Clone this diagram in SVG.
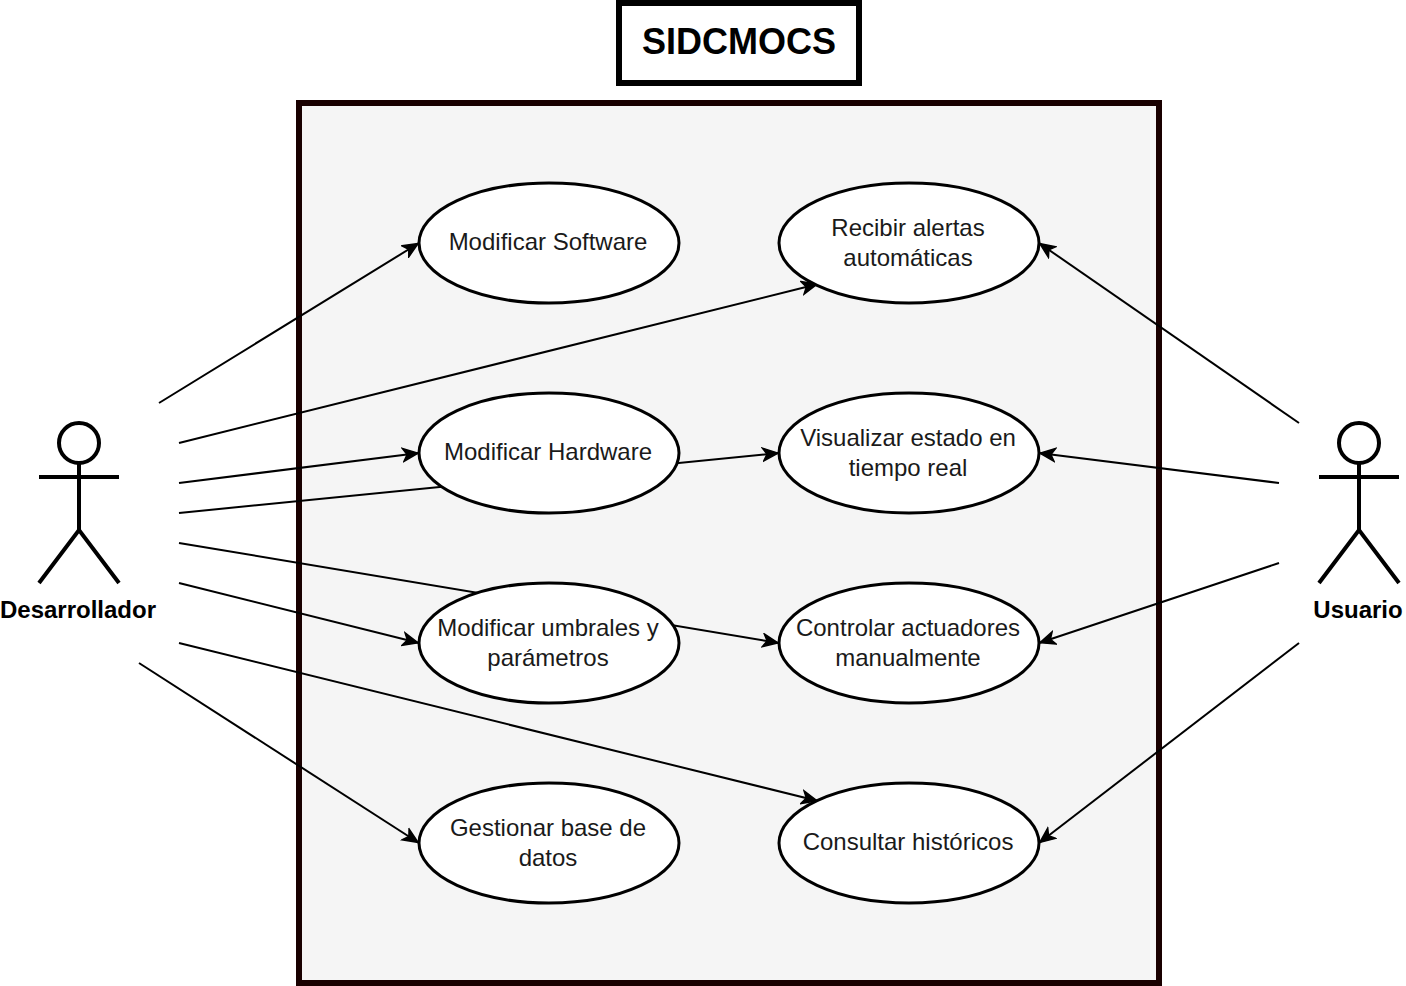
<svg xmlns="http://www.w3.org/2000/svg" width="1406" height="986" viewBox="0 0 1406 986">
<defs>
<marker id="a" viewBox="0 0 18 16" markerUnits="userSpaceOnUse" markerWidth="18" markerHeight="16" refX="17" refY="8" orient="auto"><path d="M1 1.5L16 8L1 14.5L5 8Z" fill="#000" stroke="#000" stroke-width="1.5"/></marker>
</defs>
<style>
text{font-family:"Liberation Sans",Arial,sans-serif;fill:#000;text-anchor:middle}
.u ellipse{fill:#fff;stroke:#000;stroke-width:3}
.u text{font-size:24px;fill:#1a1a1a}
.c path{fill:none;stroke:#000;stroke-width:2}
.c .e{marker-end:url(#a)}
.actor circle,.actor path{fill:#fff;stroke:#000;stroke-width:4}
.actor text{font-size:24px;font-weight:bold;fill:#000}
</style>
<rect width="1406" height="986" fill="#fff"/>
<g id="title"><rect x="619" y="3" width="240" height="80" fill="#fff" stroke="#000" stroke-width="6"/><text x="739" y="54" font-size="36" font-weight="bold">SIDCMOCS</text></g>
<g id="system"><rect x="299" y="103" width="860" height="880" fill="#f5f5f5" stroke="#190000" stroke-width="6"/></g>
<g id="connectors" class="c">
<path class="e" d="M159 403L419 243"/>
<path class="e" d="M179 443L818 284"/>
<path class="e" d="M179 483L419 453"/>
<path class="e" d="M179 513L779 453"/>
<path class="e" d="M179 543L779 643"/>
<path class="e" d="M179 583L419 643"/>
<path class="e" d="M179 643L818 801"/>
<path class="e" d="M139 663L419 843"/>
<path class="e" d="M1299 423L1039 243"/>
<path class="e" d="M1279 483L1039 453"/>
<path class="e" d="M1279 563L1039 643"/>
<path class="e" d="M1299 643L1039 843"/>
</g>
<g id="Modificar-Software" class="u"><ellipse cx="549" cy="243" rx="130" ry="60"/><text x="548" y="250">Modificar Software</text></g>
<g id="Recibir-alertas" class="u"><ellipse cx="909" cy="243" rx="130" ry="60"/><text x="908" y="236">Recibir alertas</text><text x="908" y="266">automáticas</text></g>
<g id="Modificar-Hardware" class="u"><ellipse cx="549" cy="453" rx="130" ry="60"/><text x="548" y="460">Modificar Hardware</text></g>
<g id="Visualizar-estado" class="u"><ellipse cx="909" cy="453" rx="130" ry="60"/><text x="908" y="446">Visualizar estado en</text><text x="908" y="476">tiempo real</text></g>
<g id="Modificar-umbrales" class="u"><ellipse cx="549" cy="643" rx="130" ry="60"/><text x="548" y="636">Modificar umbrales y</text><text x="548" y="666">parámetros</text></g>
<g id="Controlar-actuadores" class="u"><ellipse cx="909" cy="643" rx="130" ry="60"/><text x="908" y="636">Controlar actuadores</text><text x="908" y="666">manualmente</text></g>
<g id="Gestionar-base" class="u"><ellipse cx="549" cy="843" rx="130" ry="60"/><text x="548" y="836">Gestionar base de</text><text x="548" y="866">datos</text></g>
<g id="Consultar-historicos" class="u"><ellipse cx="909" cy="843" rx="130" ry="60"/><text x="908" y="850">Consultar históricos</text></g>
<g id="Desarrollador" class="actor"><circle cx="79" cy="443" r="20"/><path d="M79 463V530M39 477H119M39 583L79 530L119 583"/><text x="78" y="618">Desarrollador</text></g>
<g id="Usuario" class="actor"><circle cx="1359" cy="443" r="20"/><path d="M1359 463V530M1319 477H1399M1319 583L1359 530L1399 583"/><text x="1358" y="618">Usuario</text></g>
</svg>
